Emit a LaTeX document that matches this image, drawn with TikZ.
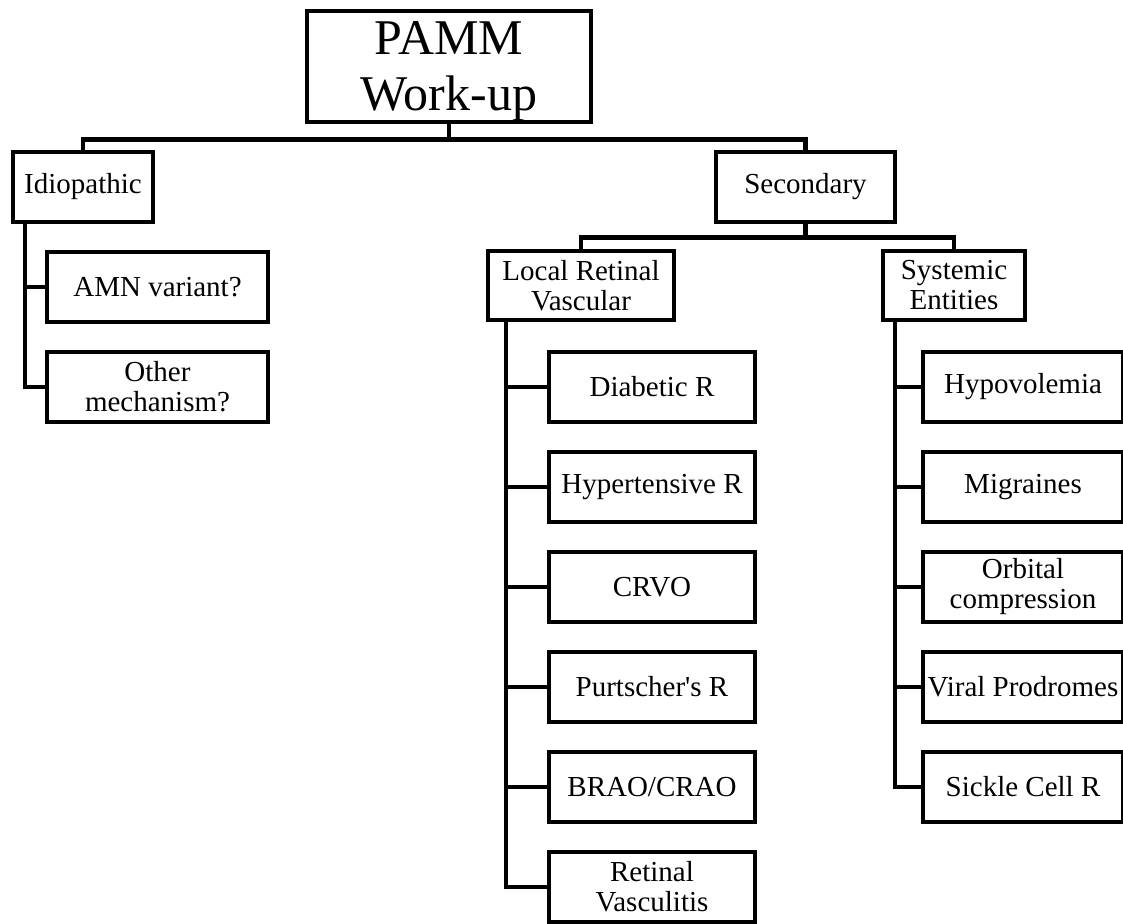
\documentclass[tikz,border=0pt]{standalone}
\usepackage{fontspec}
\setmainfont{Liberation Serif}
\begin{document}
\begin{tikzpicture}[x=1pt,y=-1pt,
  box/.style={draw, line width=4.5pt, rectangle, inner sep=0pt, minimum height=70pt,
    align=center, font=\fontsize{29}{30}\selectfont},
  link/.style={line width=4.5pt}]
\useasboundingbox (0,0) rectangle (1123,923);
\clip (0,0) rectangle (1123,923);
\fill[white] (0,0) rectangle (1123,923);

% top
\node[box, minimum width=284pt, minimum height=111pt] (pamm) at (449,66.5) {};
\node[align=center, inner sep=0pt, font=\fontsize{50}{56}\selectfont] (pammtext) at (449,71.5) {PAMM\\Work-up};

% level 1
\node[box, minimum width=140pt] (idio) at (83,187) {Idiopathic};
\node[box, minimum width=179pt] (sec) at (805.5,187) {Secondary};

% idiopathic children
\node[box, minimum width=221pt] (amn) at (157.5,287) {AMN variant?};
\node[box, minimum width=221pt] (other) at (157.5,387) {Other\\mechanism?};

% secondary children
\node[box, minimum width=186pt, minimum height=69pt] (local) at (581,285.5) {Local Retinal\\Vascular};
\node[box, minimum width=142pt, minimum height=69pt] (sys) at (954,285.5) {Systemic\\Entities};

% local retinal vascular children
\node[box, minimum width=206pt] (l1) at (652,387) {Diabetic R};
\node[box, minimum width=206pt] (l2) at (652,487) {Hypertensive R};
\node[box, minimum width=206pt] (l3) at (652,587) {CRVO};
\node[box, minimum width=206pt] (l4) at (652,687) {Purtscher\textquotesingle s R};
\node[box, minimum width=206pt] (l5) at (652,787) {BRAO/CRAO};
\node[box, minimum width=206pt] (l6) at (652,887) {Retinal\\Vasculitis};

% systemic children
\node[box, minimum width=200pt] (r1) at (1023,387) {Hypovolemia};
\node[box, minimum width=200pt] (r2) at (1023,487) {Migraines};
\node[box, minimum width=200pt] (r3) at (1023,587) {Orbital\\compression};
\node[box, minimum width=200pt] (r4) at (1023,687) {Viral Prodromes};
\node[box, minimum width=200pt] (r5) at (1023,787) {Sickle Cell R};

% connectors
\draw[link] (pamm.south) -- ++(0,15) -| (idio.north);
\draw[link] (pamm.south) -- ++(0,15) -| (sec.north);
\draw[link] (sec.south) -- ++(0,13) -| (local.north);
\draw[link] (sec.south) -- ++(0,13) -| (sys.north);

\foreach \c in {amn,other}
  \draw[link] ([xshift=14pt]idio.south west) |- (\c.west);
\foreach \c in {l1,l2,l3,l4,l5,l6}
  \draw[link] ([xshift=20pt]local.south west) |- (\c.west);
\foreach \c in {r1,r2,r3,r4,r5}
  \draw[link] ([xshift=14pt]sys.south west) |- (\c.west);
\end{tikzpicture}
\end{document}
